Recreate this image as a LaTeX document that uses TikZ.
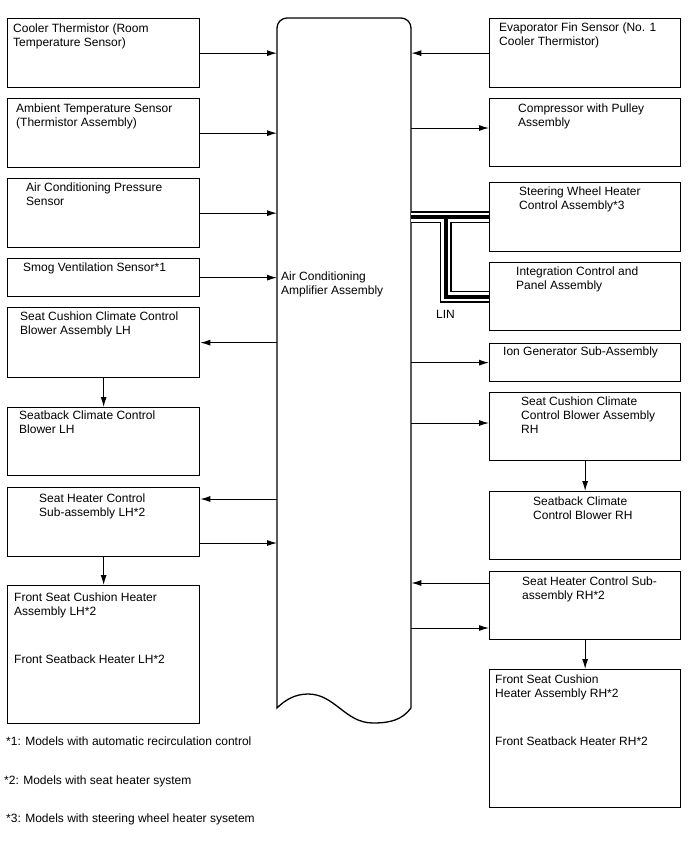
\documentclass[tikz,border=0pt]{standalone}
\usepackage{fontspec}
\setmainfont{Liberation Sans}
\usetikzlibrary{arrows.meta,calc}

\newcommand{\boxfont}{\fontsize{12}{14}\selectfont}

\begin{document}
\begin{tikzpicture}[x=1pt, y=-1pt,
  box/.style={draw, line width=1.3pt, anchor=north west, inner sep=0pt,
    minimum width=192pt, minimum height=69pt},
  rbox/.style={box, minimum width=191pt},
  txt/.style={anchor=north west, inner sep=0pt, align=left, font=\boxfont},
  arr/.style={-{Latex[length=10pt,width=6pt]}, line width=1pt},
  bus/.style={draw=white, line width=9pt,
    preaction={draw=black, line width=12pt},
    postaction={draw=black, line width=4pt}}
]

\useasboundingbox (0,0) rectangle (688,852);

% ================= CENTRE: AMPLIFIER =================
\node[anchor=north west, inner sep=0pt, minimum width=134pt, minimum height=690pt] (amp) at (277,18) {};
\draw[line width=1.3pt]
(277,708) -- (277,28) .. controls (277,22.5) and (281.5,18) .. (287,18)
-- (401,18) .. controls (406.5,18) and (411,22.5) .. (411,28)
-- (411,708) .. controls (402,720) and (390,723) .. (373,723)
.. controls (345,723) and (335,694) .. (308,694)
.. controls (295,694) and (285,700) .. cycle;
\node[txt] (ampt) at (281,270) {\strut Air Conditioning\\Amplifier Assembly};

% ================= LEFT COLUMN =================
\node[box] (b1) at (7,18) {};
\node[box] (b2) at (7,98) {};
\node[box] (b3) at (7,178) {};
\node[box, minimum height=38pt] (b4) at (7,258) {};
\node[box, minimum height=70pt] (b5) at (7,307) {};
\node[box, minimum height=68pt] (b6) at (7,407) {};
\node[box] (b7) at (7,487) {};
\node[box, minimum height=138pt] (b8) at (7,585) {};

\node[txt] (b1t) at ([shift={(6,4)}]b1.north west) {\strut Cooler Thermistor (Room\\Temperature Sensor)};
\node[txt] (b2t) at ([shift={(9,4)}]b2.north west) {\strut Ambient Temperature Sensor\\(Thermistor Assembly)};
\node[txt] (b3t) at ([shift={(19,3)}]b3.north west) {\strut Air Conditioning Pressure\\Sensor};
\node[txt] (b4t) at ([shift={(16,3)}]b4.north west) {\strut Smog Ventilation Sensor*1};
\node[txt] (b5t) at ([shift={(13,3)}]b5.north west) {\strut Seat Cushion Climate Control\\Blower Assembly LH};
\node[txt] (b6t) at ([shift={(12,2)}]b6.north west) {\strut Seatback Climate Control\\Blower LH};
\node[txt] (b7t) at ([shift={(32,5)}]b7.north west) {\strut Seat Heater Control\\Sub-assembly LH*2};
\node[txt] (b8t) at ([shift={(7,6)}]b8.north west) {\strut Front Seat Cushion Heater\\Assembly LH*2\\[34pt]Front Seatback Heater LH*2};

% ================= RIGHT COLUMN =================
\node[rbox] (r1) at (489,18) {};
\node[rbox, minimum height=68pt] (r2) at (489,98) {};
\node[rbox] (r3) at (489,182) {};
\node[rbox, minimum height=68pt] (r4) at (489,262) {};
\node[rbox, minimum height=38pt] (r5) at (489,343) {};
\node[rbox, minimum height=68pt] (r6) at (489,392) {};
\node[rbox, minimum height=68pt] (r7) at (489,491) {};
\node[rbox, minimum height=68pt] (r8) at (489,571) {};
\node[rbox, minimum height=138pt] (r9) at (489,669) {};

\node[txt] (r1t) at ([shift={(10,3)}]r1.north west) {\strut Evaporator Fin Sensor (No. 1\\Cooler Thermistor)};
\node[txt] (r2t) at ([shift={(29,4)}]r2.north west) {\strut Compressor with Pulley\\Assembly};
\node[txt] (r3t) at ([shift={(30,3)}]r3.north west) {\strut Steering Wheel Heater\\Control Assembly*3};
\node[txt] (r4t) at ([shift={(27,3)}]r4.north west) {\strut Integration Control and\\Panel Assembly};
\node[txt] (r5t) at ([shift={(14,2)}]r5.north west) {\strut Ion Generator Sub-Assembly};
\node[txt] (r6t) at ([shift={(32,3)}]r6.north west) {\strut Seat Cushion Climate\\Control Blower Assembly\\RH};
\node[txt] (r7t) at ([shift={(44,4)}]r7.north west) {\strut Seatback Climate\\Control Blower RH};
\node[txt] (r8t) at ([shift={(33,4)}]r8.north west) {\strut Seat Heater Control Sub-\\assembly RH*2};
\node[txt] (r9t) at ([shift={(6,4)}]r9.north west) {\strut Front Seat Cushion\\Heater Assembly RH*2\\[34pt]Front Seatback Heater RH*2};

% ================= CONNECTORS =================
% sensors into amplifier
\foreach \b in {b1,b2,b3,b4}
  \draw[arr] (\b.east) -- (\b.east -| amp.west);
\draw[arr] (r1.west) -- (r1.west -| amp.east);

% amplifier out
\draw[arr] (amp.west |- b5.east) -- (b5.east);
\draw[arr] (amp.east |- r5.west) -- (r5.west);
\coordinate (r2in) at ($(r2.north west)+(0,30)$);
\coordinate (r6in) at ($(r6.north west)+(0,31)$);
\draw[arr] (amp.east |- r2in) -- (r2in);
\draw[arr] (amp.east |- r6in) -- (r6in);

% seat heaters (both ways)
\coordinate (b7in) at ($(b7.north east)+(0,12)$);
\coordinate (b7out) at ($(b7.north east)+(0,56)$);
\draw[arr] (amp.west |- b7in) -- (b7in);
\draw[arr] (b7out) -- (b7out -| amp.west);
\coordinate (r8out) at ($(r8.north west)+(0,12)$);
\coordinate (r8in) at ($(r8.north west)+(0,57)$);
\draw[arr] (r8out) -- (r8out -| amp.east);
\draw[arr] (amp.east |- r8in) -- (r8in);

% chains down
\draw[arr] (b5.south) -- (b6.north);
\draw[arr] (b7.south) -- (b8.north);
\draw[arr] (r6.south) -- (r7.north);
\draw[arr] (r8.south) -- (r9.north);

% LIN bus
\coordinate (lin) at (445.5,0);
\draw[bus] (amp.east |- r3.west) -- (r3.west)
  (lin |- r3.west) -- (lin |- r4.west) -- (r4.west);
\node[txt] (lint) at (436,308) {\strut LIN};

% ================= NOTES =================
\node[txt] (n1) at (6,735) {\strut *1: Models with automatic recirculation control};
\node[txt] (n2) at (4,774) {\strut *2: Models with seat heater system};
\node[txt] (n3) at (6,812) {\strut *3: Models with steering wheel heater sysetem};

\end{tikzpicture}
\end{document}
